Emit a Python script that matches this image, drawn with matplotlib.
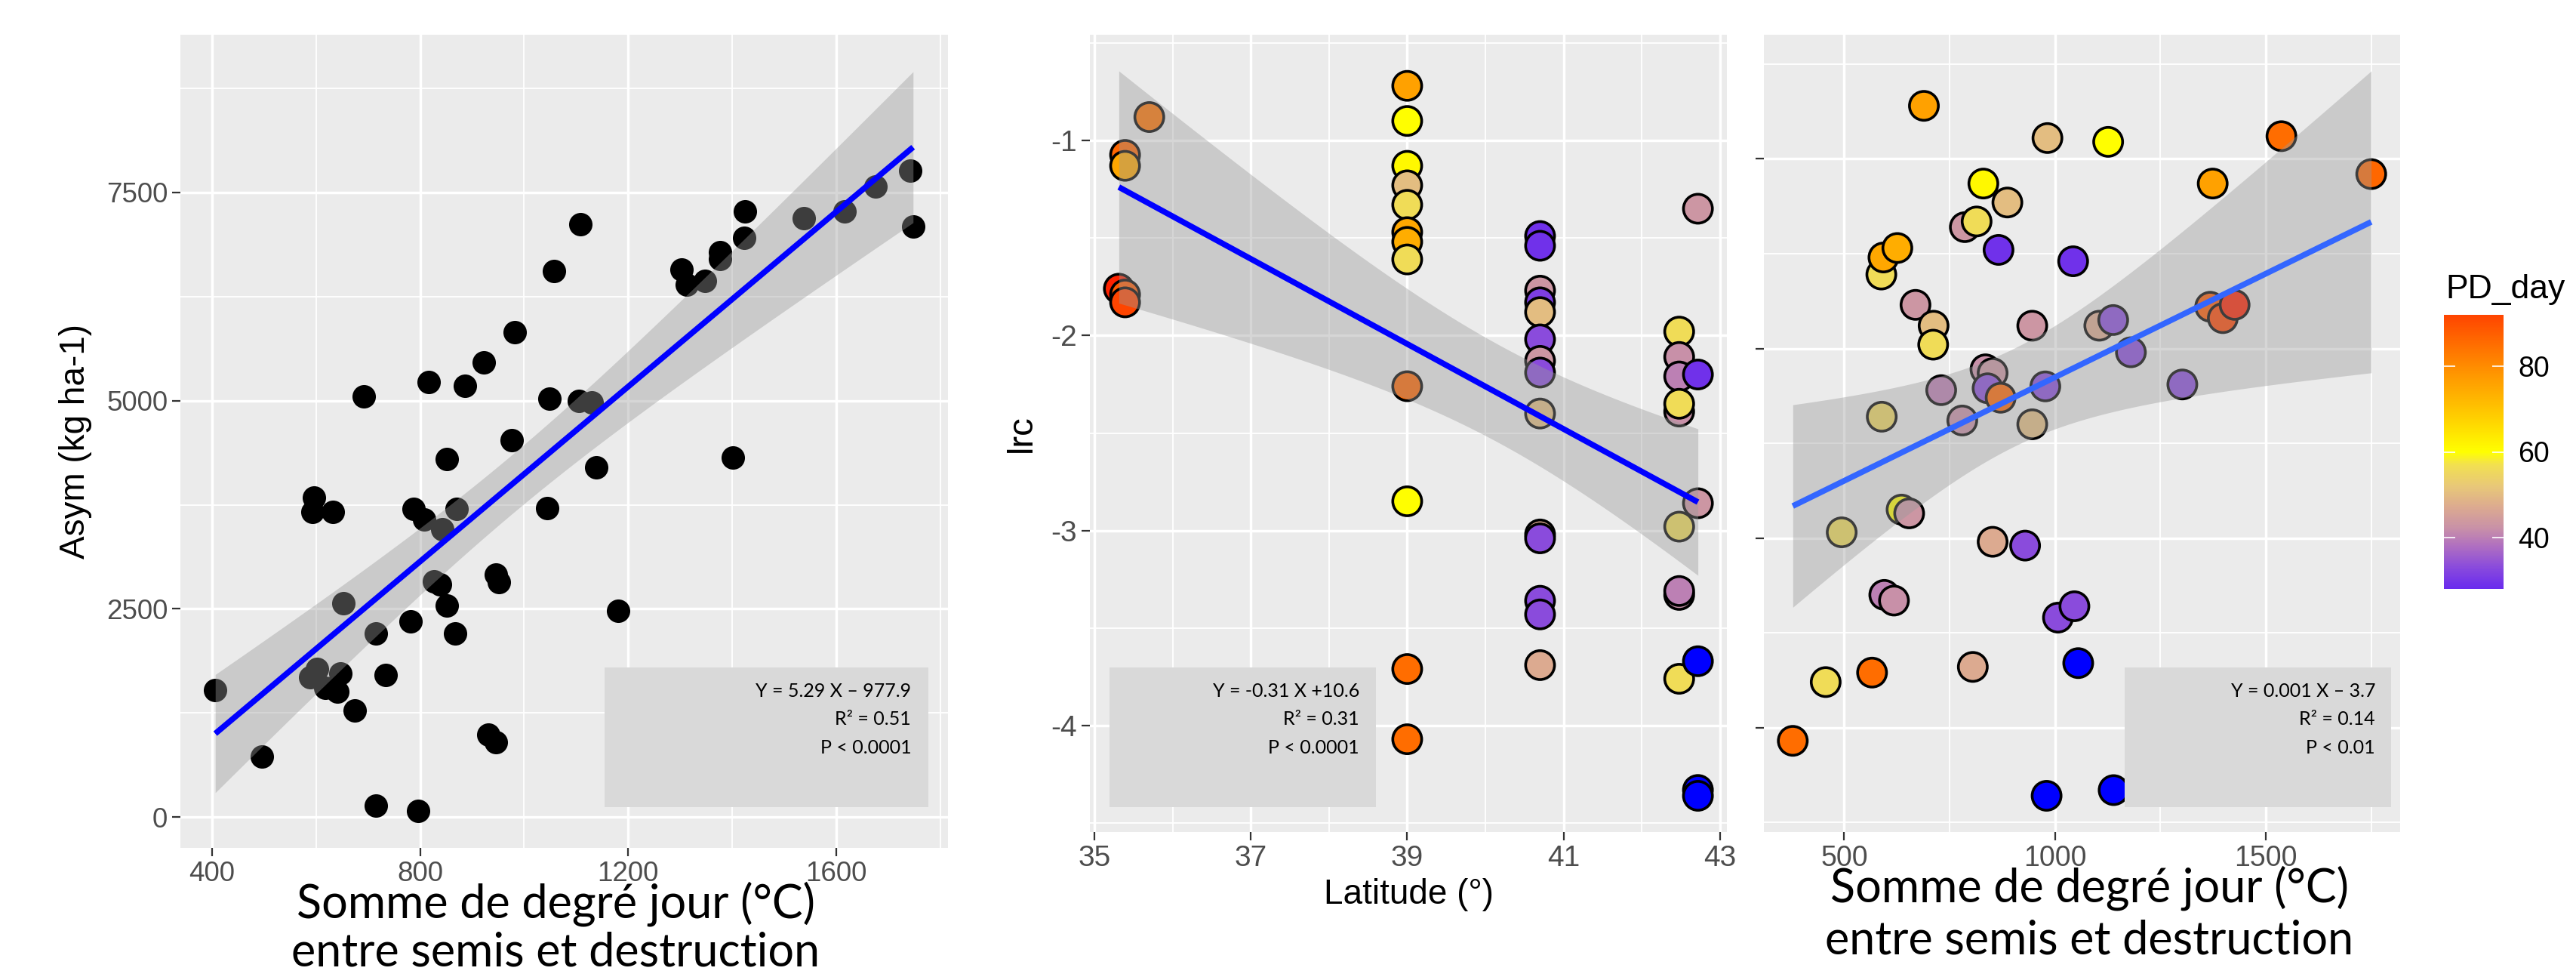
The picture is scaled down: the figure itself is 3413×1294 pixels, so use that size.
import numpy as np
import matplotlib
matplotlib.use("Agg")
import matplotlib.pyplot as plt
from matplotlib.colors import LinearSegmentedColormap, Normalize
from matplotlib.cm import ScalarMappable
from matplotlib.patches import Rectangle

plt.rcParams['font.family'] = ['Liberation Sans', 'DejaVu Sans']
plt.rcParams['axes.unicode_minus'] = False

# --- panel 1 : Asym ~ somme de degre jour
gdd_asym = [406, 496, 589, 601, 593, 596, 632, 617, 641, 647, 653, 674, 692, 715, 715,
            734, 782, 787, 796, 808, 816, 826, 838, 843, 851, 852, 867, 870, 886, 922,
            931, 946, 946, 952, 976, 982, 1045, 1048, 1058, 1108, 1106, 1130, 1139, 1181,
            1302, 1313, 1348, 1377, 1377, 1401, 1423, 1424, 1538, 1616, 1676, 1743, 1748]
asym = [1525, 729, 1676, 1781, 3660, 3833, 3667, 1556, 1503, 1728, 2570, 1278, 5050, 2209, 135,
        1706, 2352, 3705, 75, 3570, 5223, 2833, 2795, 3457, 4299, 2540, 2202, 3697, 5178, 5463,
        992, 902, 2908, 2818, 4524, 5824, 3712, 5020, 6553, 7117, 4997, 4975, 4201, 2480,
        6576, 6388, 6433, 6703, 6786, 4314, 6951, 7267, 7192, 7267, 7568, 7763, 7087]

# --- panel 2 : lrc ~ latitude
lat = [35.31, 35.39, 35.39, 35.39, 35.39, 35.70,
       39, 39, 39, 39, 39, 39, 39, 39, 39, 39, 39, 39,
       40.7, 40.7, 40.7, 40.7, 40.7, 40.7, 40.7, 40.7, 40.7, 40.7, 40.7, 40.7, 40.7, 40.7,
       42.48, 42.48, 42.48, 42.48, 42.48, 42.48, 42.48, 42.48, 42.48,
       42.72, 42.72, 42.72, 42.72, 42.72, 42.72]
lrc_lat = [-1.76, -1.074, -1.13, -1.79, -1.83, -0.88,
           -0.72, -0.90, -1.13, -1.23, -1.33, -1.47, -1.52, -1.61, -2.26, -2.85, -3.71, -4.07,
           -1.49, -1.54, -1.77, -1.83, -1.88, -2.02, -2.13, -2.19, -2.40, -3.02, -3.04, -3.36, -3.43, -3.69,
           -1.98, -2.11, -2.21, -2.39, -2.35, -2.98, -3.33, -3.31, -3.76,
           -1.35, -2.20, -2.86, -3.67, -4.33, -4.36]
pd_lat = [95, 86, 75, 88, 92, 84,
          76, 60, 61, 50, 56, 75, 74, 56, 86, 60, 85, 85,
          29, 29, 43, 31, 50, 33, 43, 33, 50, 47, 33, 33, 33, 47,
          56, 42, 40, 42, 56, 56, 42, 40, 56,
          43, 29, 43, np.nan, np.nan, np.nan]

# --- panel 3 : lrc ~ somme de degre jour
gdd_lrc = [378, 456, 494, 566, 589, 588, 593, 626, 595, 618, 636, 654, 669, 689, 712, 711, 730,
           780, 786, 814, 805, 830, 835, 852, 840, 852, 866, 871, 887, 929, 946, 946, 977, 982,
           980, 1007, 1046, 1043, 1055, 1105, 1138, 1126, 1139, 1180, 1302, 1368, 1374, 1398,
           1426, 1537, 1750]
lrc_gdd = [-4.07, -3.76, -2.97, -3.71, -2.36, -1.61, -1.52, -1.47, -3.30, -3.33, -2.85, -2.87,
           -1.77, -0.72, -1.88, -1.98, -2.22, -2.38, -1.36, -1.33, -3.68, -1.13, -2.11, -2.13,
           -2.21, -3.02, -1.48, -2.26, -1.23, -3.04, -1.88, -2.40, -2.20, -0.89, -4.36, -3.42,
           -3.36, -1.54, -3.66, -1.88, -1.85, -0.91, -4.33, -2.02, -2.19, -1.78, -1.13, -1.84,
           -1.77, -0.88, -1.08]
pd_gdd = [85, 56, 56, 85, 55, 56, 75, 74, 40, 42, 60, 43, 43, 76, 50, 56, 40, 42, 43, 56, 47,
          61, 42, 43, 33, 47, 29, 86, 50, 33, 43, 50, 33, 50, np.nan, 33, 33, 29, np.nan, 47,
          33, 60, np.nan, 33, 33, 88, 76, 92, 95, 85, 86]

pd_stops = [28, 33, 38, 42, 47, 52, 57, 60, 70, 80, 92]
pd_colors = ['#6A2BEE', '#8A4BDC', '#B070C0', '#C890A8', '#DCAA90', '#E8C878', '#F2E050',
             '#FFFF00', '#FFC400', '#FF8C00', '#FF4500']

W, H = 3413, 1294
fig = plt.figure(figsize=(W / 100, H / 100), dpi=100)


def rect(x0, y0, x1, y1):
    return [x0 / W, 1 - y1 / H, (x1 - x0) / W, (y1 - y0) / H]


def lm_band(x, y, n=100):
    x = np.asarray(x, float)
    y = np.asarray(y, float)
    b, a = np.polyfit(x, y, 1)
    xs = np.linspace(x.min(), x.max(), n)
    yh = a + b * xs
    s = np.sqrt(np.sum((y - (a + b * x)) ** 2) / (len(x) - 2))
    se = s * np.sqrt(1 / len(x) + (xs - x.mean()) ** 2 / np.sum((x - x.mean()) ** 2))
    return xs, yh, yh - 2.01 * se, yh + 2.01 * se


def gg_axes(ax, xt, xm, yt, ym, lsize, ylabels=True):
    ax.set_facecolor('#EBEBEB')
    for s in ax.spines.values():
        s.set_visible(False)
    ax.set_xticks(xt)
    ax.set_xticks(xm, minor=True)
    ax.set_yticks(yt)
    ax.set_yticks(ym, minor=True)
    ax.grid(True, which='major', color='white', lw=2.5)
    ax.grid(True, which='minor', color='white', lw=1.3)
    ax.set_axisbelow(True)
    ax.tick_params(which='major', length=8, width=1.6, color='#333333',
                   labelsize=lsize, labelcolor='#4D4D4D', pad=4)
    ax.tick_params(which='minor', length=0)
    if not ylabels:
        ax.tick_params(axis='y', labelleft=False)


def smooth(ax, x, y, color):
    xs, yh, lo, hi = lm_band(x, y)
    ax.fill_between(xs, lo, hi, color='#999999', alpha=0.4, lw=0, zorder=3)
    ax.plot(xs, yh, color=color, lw=5.5, zorder=4, solid_capstyle='butt')
    ymin = min(np.min(y), lo.min())
    ymax = max(np.max(y), hi.max())
    r = ymax - ymin
    ax.set_ylim(ymin - 0.05 * r, ymax + 0.05 * r)
    xr = np.max(x) - np.min(x)
    ax.set_xlim(np.min(x) - 0.05 * xr, np.max(x) + 0.05 * xr)


def stat_box(ax, x0, x1, lines, tx):
    ax.add_patch(Rectangle((x0, 0.031), x1 - x0, 0.175, transform=ax.transAxes,
                           facecolor='#D9D9D9', edgecolor='none', zorder=6, clip_on=False))
    for i, t in enumerate(lines):
        ax.text(tx, 0.177 - i * 0.0355, t, transform=ax.transAxes, ha='right', va='center',
                family=['Lato', 'DejaVu Sans'], fontsize=18, zorder=7)


cmap = LinearSegmentedColormap.from_list(
    'pd', [((v - pd_stops[0]) / (pd_stops[-1] - pd_stops[0]), c) for v, c in zip(pd_stops, pd_colors)])
cmap.set_bad('#0000FF')
cmap.set_over('#FF2200')
cmap.set_under('#6A2BEE')
norm = Normalize(pd_stops[0], pd_stops[-1])

# panel 1
ax1 = fig.add_axes(rect(239, 46, 1256, 1123))
gg_axes(ax1, [400, 800, 1200, 1600], [600, 1000, 1400, 1800],
        [0, 2500, 5000, 7500], [1250, 3750, 6250, 8750], 26.5)
ax1.scatter(gdd_asym, asym, s=500, color='black', lw=0, zorder=2)
smooth(ax1, gdd_asym, asym, '#0000FF')
ax1.set_ylabel('Asym (kg ha-1)', fontsize=33, labelpad=14)
ax1.add_patch(Rectangle((0.553, 0.050), 0.421, 0.172, transform=ax1.transAxes,
                        facecolor='#D9D9D9', edgecolor='none', zorder=6))
for i, t in enumerate(['Y = 5.29 X – 977.9', 'R² = 0.51', 'P < 0.0001']):
    ax1.text(0.952, 0.193 - i * 0.035, t, transform=ax1.transAxes, ha='right', va='center',
             family=['Lato', 'DejaVu Sans'], fontsize=18, zorder=7)

# panel 2
ax2 = fig.add_axes(rect(1444, 46, 2288, 1102))
gg_axes(ax2, [35, 37, 39, 41, 43], [36, 38, 40, 42],
        [-1, -2, -3, -4], [-0.5, -1.5, -2.5, -3.5, -4.5], 28)
ax2.scatter(lat, lrc_lat, c=np.ma.masked_invalid(pd_lat), cmap=cmap, norm=norm, s=760,
            edgecolors='black', linewidths=2.6, zorder=2, plotnonfinite=True)
smooth(ax2, lat, lrc_lat, '#0000FF')
ax2.set_xlabel('Latitude (°)', fontsize=33, labelpad=6)
ax2.set_ylabel('lrc', fontsize=34, labelpad=12)
stat_box(ax2, 0.031, 0.449, ['Y = -0.31 X +10.6', 'R² = 0.31', 'P < 0.0001'], 0.423)

# panel 3
ax3 = fig.add_axes(rect(2337, 46, 3180, 1102))
gg_axes(ax3, [500, 1000, 1500], [750, 1250, 1750],
        [-1, -2, -3, -4], [-0.5, -1.5, -2.5, -3.5, -4.5], 27, ylabels=False)
ax3.scatter(gdd_lrc, lrc_gdd, c=np.ma.masked_invalid(pd_gdd), cmap=cmap, norm=norm, s=760,
            edgecolors='black', linewidths=2.6, zorder=2, plotnonfinite=True)
smooth(ax3, gdd_lrc, lrc_gdd, '#3366FF')
stat_box(ax3, 0.567, 0.986, ['Y = 0.001 X – 3.7', 'R² = 0.14', 'P < 0.01'], 0.961)

# colour bar
cax = fig.add_axes(rect(3238, 417, 3317, 780))
cb = fig.colorbar(ScalarMappable(norm=norm, cmap=cmap), cax=cax)
cb.outline.set_visible(False)
cb.set_ticks([40, 60, 80])
cax.yaxis.set_ticks_position('both')
cax.tick_params(direction='in', color='white', length=11, width=1.2, labelsize=27,
                labelcolor='black', left=True, right=True, labelleft=False, labelright=True, pad=14)
fig.text(3240 / W, 1 - 383 / H, 'PD_day', fontsize=32, ha='left', va='center')

# titres x (ajoutés à la main)
lab = ['Somme de degré jour (°C)', 'entre semis et destruction']
for cx, ys in [(736, (1197, 1262)), (2768, (1176, 1246))]:
    for t, yy in zip(lab, ys):
        fig.text(cx / W, 1 - yy / H, t, fontsize=44, ha='center', va='center',
                 family=['Lato', 'DejaVu Sans'])

fig.savefig('out.png', dpi=100, facecolor='white')
